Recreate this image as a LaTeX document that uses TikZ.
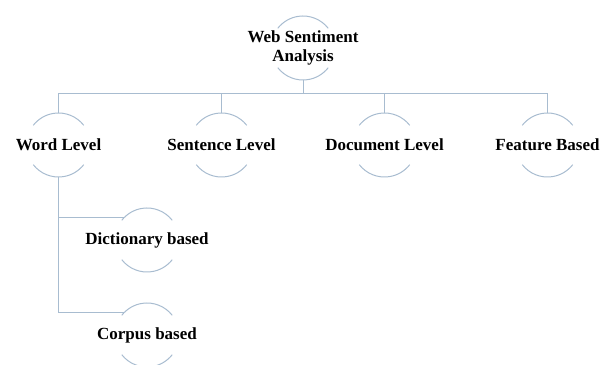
\documentclass[tikz,border=0pt]{standalone}
\usepackage{fontspec}
\setmainfont{Liberation Serif}
\usepackage{tikz}
\usetikzlibrary{positioning}
\definecolor{linec}{RGB}{168,188,208}
\tikzset{ring/.style={circle, minimum size=64pt, inner sep=0pt, outer sep=0pt}}
\tikzset{title/.style={align=center, inner sep=0pt, font=\bfseries\fontsize{17}{19}\selectfont}}
\tikzset{arcs/.style={draw=linec, line width=1pt}}

\begin{document}
\begin{tikzpicture}[x=1pt, y=1pt,
        every label/.style={title},
        level 1/.style={sibling distance=163pt},
        level distance=97pt,
        edge from parent/.style={draw=linec, line width=1pt},
        edge from parent path={(\tikzparentnode.south) -- ++(0,-14) -| (\tikzchildnode.north)}
    ]
    \useasboundingbox (0,0) rectangle (602,364);

    \node [ring, label={center:Web Sentiment\\Analysis}] (root) at (303,316) {}
        child {node [ring, label={center:Word Level}] (word) {}}
        child {node [ring, label={center:Sentence Level}] (sentence) {}}
        child {node [ring, label={center:Document Level}] (document) {}}
        child {node [ring, label={center:Feature Based}] (feature) {}};

    \node [ring, label={center:Dictionary based}] (dict) at (147,124) {};
    \node [ring, label={center:Corpus based}] (corpus) at (147,29) {};

    \draw [arcs] (word.south) |- (dict.135);
    \draw [arcs] (word.south) |- (corpus.135);

    \draw [arcs] (root.38) arc (38:142:32pt) (root.218) arc (218:322:32pt);
    \draw [arcs] (word.38) arc (38:142:32pt) (word.218) arc (218:322:32pt);
    \draw [arcs] (sentence.38) arc (38:142:32pt) (sentence.218) arc (218:322:32pt);
    \draw [arcs] (document.38) arc (38:142:32pt) (document.218) arc (218:322:32pt);
    \draw [arcs] (feature.38) arc (38:142:32pt) (feature.218) arc (218:322:32pt);
    \draw [arcs] (dict.38) arc (38:142:32pt) (dict.218) arc (218:322:32pt);
    \draw [arcs] (corpus.38) arc (38:142:32pt) (corpus.218) arc (218:322:32pt);

\end{tikzpicture}
\end{document}
